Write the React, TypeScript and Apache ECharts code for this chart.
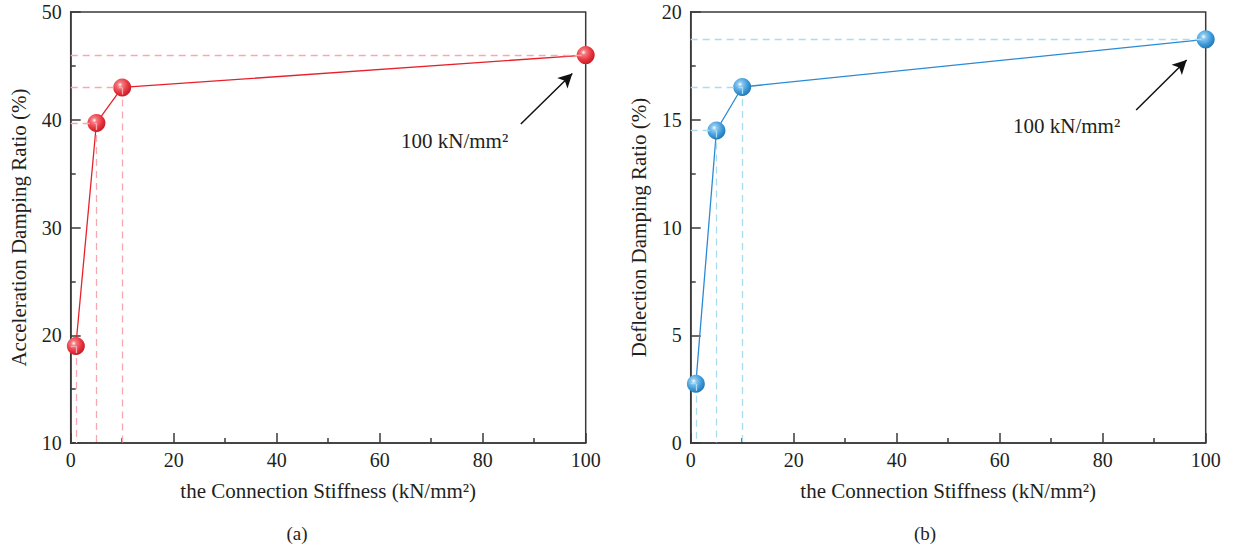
import React, { useEffect, useRef } from "react";
import * as echarts from "echarts";

const xStiff = [1, 5, 10, 100];
const accelRatio = [19, 39.7, 43, 46];
const deflRatio = [2.75, 14.5, 16.52, 18.73];
const xTicks = { min: 0, max: 100, interval: 20 };
const accelAxis = { min: 10, max: 50, interval: 10 };
const deflAxis = { min: 0, max: 20, interval: 5 };
const arrowA = [[87.4, 39.6], [97.4, 44.3]];
const arrowB = [[86.5, 15.45], [96.3, 17.77]];
const xName = "the Connection Stiffness (kN/mm²)";
const yNameA = "Acceleration Damping Ratio (%)";
const yNameB = "Deflection Damping Ratio (%)";
const annot = "100 kN/mm²";

const FONT = "Liberation Serif";
const TXT = "#231f20";
const AX = "#3a3a3a";

function sphere(c0: string, c1: string, c2: string) {
  return {
    type: "radial", x: 0.38, y: 0.35, r: 0.75,
    colorStops: [
      { offset: 0, color: "#ffffff" },
      { offset: 0.18, color: c0 },
      { offset: 0.6, color: c1 },
      { offset: 1, color: c2 },
    ],
  };
}

function xAxisCfg(gi: number) {
  return {
    gridIndex: gi, type: "value", min: xTicks.min, max: xTicks.max, interval: xTicks.interval,
    name: xName, nameLocation: "middle", nameGap: 37,
    nameTextStyle: { fontFamily: FONT, fontSize: 21, color: TXT },
    axisLine: { show: true, onZero: false, lineStyle: { color: AX, width: 1.5 } },
    axisTick: { show: true, inside: true, length: 10, lineStyle: { color: AX, width: 1.5 } },
    minorTick: { show: true, splitNumber: 2, length: 5, lineStyle: { color: AX, width: 1.5 } },
    axisLabel: { fontFamily: FONT, fontSize: 20, color: TXT, margin: 7 },
    splitLine: { show: false },
  };
}

function yAxisCfg(gi: number, ax: any, name: string) {
  return {
    gridIndex: gi, type: "value", min: ax.min, max: ax.max, interval: ax.interval,
    name, nameLocation: "middle", nameGap: 41,
    nameTextStyle: { fontFamily: FONT, fontSize: 21, color: TXT },
    axisLine: { show: true, onZero: false, lineStyle: { color: AX, width: 1.5 } },
    axisTick: { show: true, inside: true, length: 10, lineStyle: { color: AX, width: 1.5 } },
    minorTick: { show: true, splitNumber: 2, length: 5, lineStyle: { color: AX, width: 1.5 } },
    axisLabel: { fontFamily: FONT, fontSize: 20, color: TXT, margin: 9 },
    splitLine: { show: false },
  };
}

function guides(ys: number[], yMin: number) {
  const d: any[] = [];
  xStiff.forEach((x, i) => {
    d.push([{ coord: [0, ys[i]] }, { coord: [x, ys[i]] }]);
    if (x < xTicks.max) d.push([{ coord: [x, ys[i]] }, { coord: [x, yMin] }]);
  });
  return d;
}

function seriesFor(gi: number, ys: number[], yMin: number, line: string, dash: string, grad: any, arrow: number[][]) {
  return [
    {
      type: "line", xAxisIndex: gi, yAxisIndex: gi, data: [], z: 1, silent: true,
      markLine: {
        silent: true, symbol: ["none", "none"], label: { show: false },
        lineStyle: { color: dash, type: [7, 5], width: 1.3 },
        data: guides(ys, yMin),
      },
    },
    {
      type: "line", xAxisIndex: gi, yAxisIndex: gi, z: 3,
      data: xStiff.map((x, i) => [x, ys[i]]),
      symbol: "circle", symbolSize: 18,
      lineStyle: { color: line, width: 1.3 },
      itemStyle: { color: grad },
    },
    {
      type: "line", xAxisIndex: gi, yAxisIndex: gi, data: [], z: 4, silent: true,
      markLine: {
        silent: true, symbol: ["none", "arrow"], symbolSize: [11, 14], label: { show: false },
        lineStyle: { color: "#111", type: "solid", width: 1.5 },
        data: [[{ coord: arrow[0] }, { coord: arrow[1] }]],
      },
    },
  ];
}

export default function App() {
  const ref = useRef<HTMLDivElement>(null);
  useEffect(() => {
    const chart = echarts.init(ref.current!, null, { renderer: "svg" });
    chart.setOption({
      animation: false,
      backgroundColor: "#ffffff",
      grid: [
        { left: 70.7, top: 12, width: 515, height: 431, show: true, borderColor: AX, borderWidth: 1.5, backgroundColor: "transparent" },
        { left: 690.7, top: 12, width: 515, height: 431, show: true, borderColor: AX, borderWidth: 1.5, backgroundColor: "transparent" },
      ],
      xAxis: [xAxisCfg(0), xAxisCfg(1)],
      yAxis: [yAxisCfg(0, accelAxis, yNameA), yAxisCfg(1, deflAxis, yNameB)],
      series: [
        ...seriesFor(0, accelRatio, accelAxis.min, "#e8202a", "#f6a9b0",
          sphere("#f47a80", "#e8323c", "#b5151f"), arrowA),
        ...seriesFor(1, deflRatio, deflAxis.min, "#2a8ad4", "#a9dcee",
          sphere("#8cc8ee", "#3a98d8", "#1c6aa8"), arrowB),
      ],
      graphic: [
        { type: "text", left: 401, top: 130, style: { text: annot, font: `21px "${FONT}"`, fill: TXT } },
        { type: "text", left: 1013, top: 115, style: { text: annot, font: `21px "${FONT}"`, fill: TXT } },
        { type: "text", x: 297, y: 533, style: { text: "(a)", font: `19px "${FONT}"`, fill: TXT, align: "center", verticalAlign: "middle" } },
        { type: "text", x: 925, y: 533, style: { text: "(b)", font: `19px "${FONT}"`, fill: TXT, align: "center", verticalAlign: "middle" } },
      ],
    });
    return () => chart.dispose();
  }, []);
  return <div ref={ref} style={{ position: "fixed", left: 0, top: 0, width: 1233, height: 550 }} />;
}
